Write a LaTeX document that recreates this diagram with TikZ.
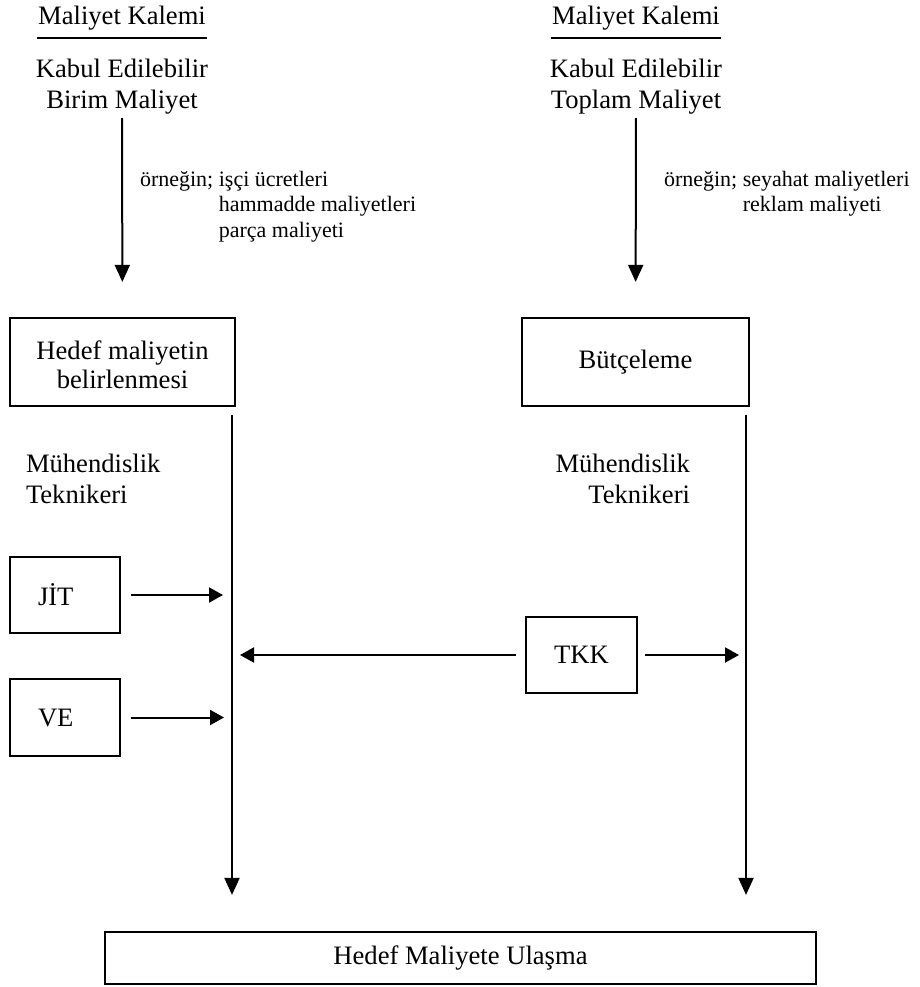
\documentclass[tikz,border=0pt]{standalone}
\usepackage{fontspec}
\setmainfont{Liberation Serif}
\usetikzlibrary{arrows.meta}
\newcommand{\bigfs}{\fontsize{26.6}{31}\selectfont}
\newcommand{\boxfs}{\fontsize{26.6}{29}\selectfont}
\newcommand{\notefs}{\fontsize{22}{25.5}\selectfont}
\begin{document}
\begin{tikzpicture}[x=1pt, y=-1pt, line width=2pt,
  every node/.style={font=\bigfs, inner sep=0pt},
  box/.style={draw, line width=2.2pt, inner sep=0pt},
  darrow/.style={-{Triangle[length=17pt,width=15pt]}},
  harrow/.style={-{Triangle[length=14pt,width=15pt]}},
  uline/.style={line width=2.2pt}]
\useasboundingbox (0,0) rectangle (919,987);

% headings
\node[anchor=base] (t1) at (122,25) {Maliyet Kalemi};
\node[anchor=base] (t2) at (636,25) {Maliyet Kalemi};
\draw[uline] ([yshift=-13pt]t1.base west) -- ([yshift=-13pt]t1.base east);
\draw[uline] ([yshift=-13pt]t2.base west) -- ([yshift=-13pt]t2.base east);

\node[anchor=north, align=center] (s1) at (122,58) {Kabul Edilebilir\\Birim Maliyet};
\node[anchor=north, align=center] (s2) at (636,58) {Kabul Edilebilir\\Toplam Maliyet};

% notes
\node[anchor=north west, align=left, font=\notefs] (n1) at (139,170)
  {örneğin; işçi ücretleri\\\hphantom{örneğin;\ }hammadde maliyetleri\\\hphantom{örneğin;\ }parça maliyeti};
\node[anchor=north west, align=left, font=\notefs] (n2) at (663,170)
  {örneğin; seyahat maliyetleri\\\hphantom{örneğin;\ }reklam maliyeti};

% boxes
\node[box, minimum width=225, minimum height=88, align=center, font=\boxfs] (b1) at (122.5,362)
  {\raisebox{0pt}[24pt]{}Hedef maliyetin\\belirlenmesi};
\node[box, minimum width=227, minimum height=88] (b2) at (635.5,362) {Bütçeleme};

\draw[darrow, shorten <=3pt, shorten >=35pt] (s1) -- (b1);
\draw[darrow, shorten <=3pt, shorten >=35pt] (s2) -- (b2);

% bottom box
\node[box, minimum width=711, minimum height=52] (fb) at (460.5,958) {Hedef Maliyete Ulaşma};

% vertical lines
\coordinate (l1) at (232,415);
\coordinate (l2) at (746,415);
\draw[darrow, shorten >=36pt] (l1) -- (l1 |- fb.north);
\draw[darrow, shorten >=36pt] (l2) -- (l2 |- fb.north);

% engineering techniques
\node[anchor=north west, align=left] (m1) at (25,453) {Mühendislik\\Teknikeri};
\node[anchor=north east, align=right] (m2) at (691,453) {Mühendislik\\Teknikeri};

% JIT, VE, TKK
\node[box, minimum height=76, inner xsep=28pt, text width=54pt, align=left] (jit) at (65,595) {JİT};
\node[box, minimum height=77, inner xsep=28pt, text width=54pt, align=left] (ve) at (65,717.5) {VE};
\node[box, minimum width=111, minimum height=76] (tkk) at (581.5,655) {TKK};

\draw[harrow, shorten <=10pt, shorten >=9pt] (jit.east) -- (jit.east -| l1);
\draw[harrow, shorten <=10pt, shorten >=8pt] (ve.east) -- (ve.east -| l1);
\draw[harrow, shorten <=7pt, shorten >=7pt] (tkk.east) -- (tkk.east -| l2);
\draw[harrow, shorten <=9pt, shorten >=8pt] (tkk.west) -- (tkk.west -| l1);
\end{tikzpicture}
\end{document}
